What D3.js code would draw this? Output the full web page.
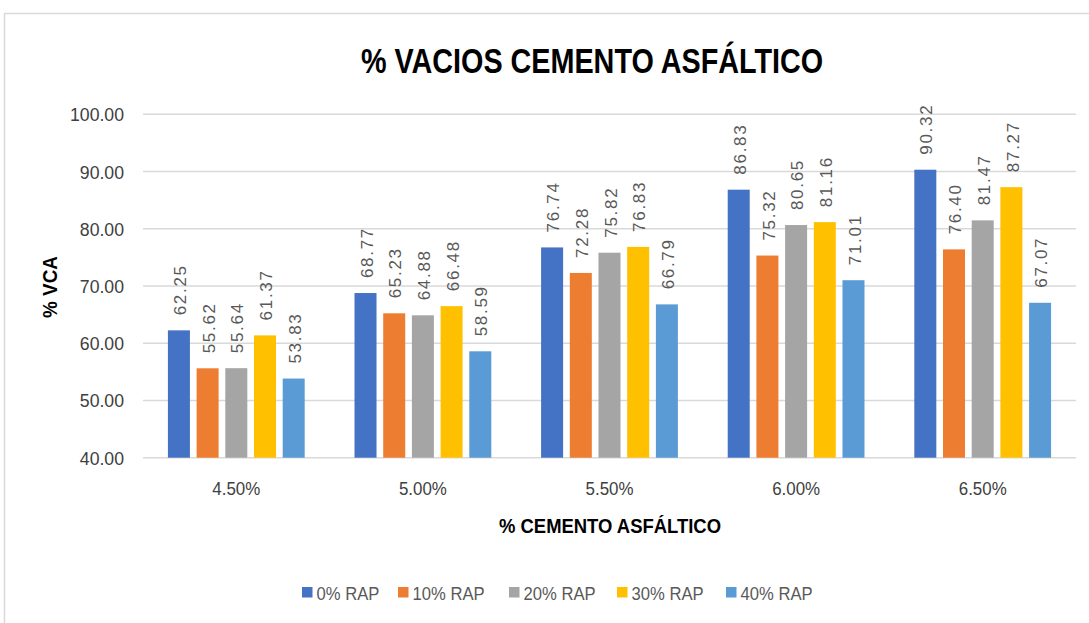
<!DOCTYPE html>
<html><head><meta charset="utf-8">
<script src="https://cdn.jsdelivr.net/npm/d3@7"></script>
<style>html,body{margin:0;padding:0;background:#fff;}svg{display:block;}</style>
</head><body>
<svg id="c" width="1089" height="623"></svg>
<script>
const categories = ["4.50%", "5.00%", "5.50%", "6.00%", "6.50%"];
const seriesNames = ["0% RAP", "10% RAP", "20% RAP", "30% RAP", "40% RAP"];
const rap0  = [62.25, 68.77, 76.74, 86.83, 90.32];
const rap10 = [55.62, 65.23, 72.28, 75.32, 76.40];
const rap20 = [55.64, 64.88, 75.82, 80.65, 81.47];
const rap30 = [61.37, 66.48, 76.83, 81.16, 87.27];
const rap40 = [53.83, 58.59, 66.79, 71.01, 67.07];
const yTicks = [40, 50, 60, 70, 80, 90, 100];
const colors = ["#4472C4", "#ED7D31", "#A5A5A5", "#FFC000", "#5B9BD5"];

(function(){
const seriesValues = [rap0, rap10, rap20, rap30, rap40];
const svg = d3.select("#c");
const font = "'Liberation Sans', Arial, sans-serif";

// chart border
svg.append("rect").attr("x", 4.5).attr("y", 13.5).attr("width", 1100).attr("height", 640)
  .attr("fill", "none").attr("stroke", "#D9D9D9").attr("stroke-width", 1.5);

const pL = 143, pR = 1076, pT = 114.3, pB = 457.7;
const y = d3.scaleLinear().domain([40, 100]).range([pB, pT]);
const x0 = d3.scaleBand().domain(categories).range([pL, pR]).paddingInner(0.267).paddingOuter(0.1335);
const x1 = d3.scaleBand().domain(seriesNames).range([0, x0.bandwidth()]).paddingInner(0.233).paddingOuter(0);

function sq(sel, x, yy, sx) {
  return sel.attr("transform", `translate(${x},${yy}) scale(${sx},1)`);
}

// gridlines
svg.append("g").selectAll("line").data(yTicks).join("line")
  .attr("x1", pL).attr("x2", pR)
  .attr("y1", d => y(d)).attr("y2", d => y(d))
  .attr("stroke", "#D9D9D9").attr("stroke-width", 1.6);

// y tick labels
svg.append("g").selectAll("text").data(yTicks).join("text")
  .each(function(d){ sq(d3.select(this), 124, y(d) + 7, 0.93); })
  .attr("text-anchor", "end").attr("font-family", font).attr("font-size", 19)
  .attr("fill", "#404040").text(d => d.toFixed(2));

// bars
const groups = svg.append("g").selectAll("g").data(categories).join("g")
  .attr("transform", d => `translate(${x0(d)},0)`);
groups.selectAll("rect").data((c, i) => seriesNames.map((s, k) => ({s, v: seriesValues[k][i], k})))
  .join("rect")
  .attr("x", d => x1(d.s)).attr("width", x1.bandwidth())
  .attr("y", d => y(d.v)).attr("height", d => y(40) - y(d.v))
  .attr("fill", d => colors[d.k]);

// data labels
groups.selectAll("text").data((c, i) => seriesNames.map((s, k) => ({s, v: seriesValues[k][i], k})))
  .join("text")
  .attr("transform", d => `translate(${x1(d.s) + x1.bandwidth() / 2 + 1},${y(d.v) - 15}) rotate(-90)`)
  .attr("dy", "0.36em")
  .attr("font-family", font).attr("font-size", 17).attr("letter-spacing", 1.7)
  .attr("fill", "#595959").text(d => d.v.toFixed(2));

// category labels
svg.append("g").selectAll("text").data(categories).join("text")
  .each(function(d){ sq(d3.select(this), x0(d) + x0.bandwidth() / 2, 495, 0.89); })
  .attr("text-anchor", "middle").attr("font-family", font).attr("font-size", 19)
  .attr("fill", "#404040").text(d => d);

// title
sq(svg.append("text"), 592, 73, 0.81)
  .attr("text-anchor", "middle").attr("font-family", font).attr("font-weight", "bold")
  .attr("font-size", 35.5).attr("fill", "#000").text("% VACIOS CEMENTO ASFÁLTICO");

// x-axis title
sq(svg.append("text"), 610, 533, 0.9)
  .attr("text-anchor", "middle").attr("font-family", font).attr("font-weight", "bold")
  .attr("font-size", 20.5).attr("fill", "#000").text("% CEMENTO ASFÁLTICO");

// y-axis title
svg.append("text").attr("transform", `translate(57,287) rotate(-90) scale(0.92,1)`)
  .attr("text-anchor", "middle").attr("font-family", font).attr("font-weight", "bold")
  .attr("font-size", 20.5).attr("fill", "#000").text("% VCA");

// legend
const legX = [302, 398, 509, 617, 726];
const leg = svg.append("g").selectAll("g").data(seriesNames).join("g")
  .attr("transform", (d, i) => `translate(${legX[i]},587)`);
leg.append("rect").attr("width", 10.5).attr("height", 10.5).attr("fill", (d, i) => colors[i]);
leg.append("text").attr("transform", "translate(14.5,12.5) scale(0.9,1)")
  .attr("font-family", font).attr("font-size", 18.5).attr("fill", "#595959").text(d => d);
})();
</script>
</body></html>
